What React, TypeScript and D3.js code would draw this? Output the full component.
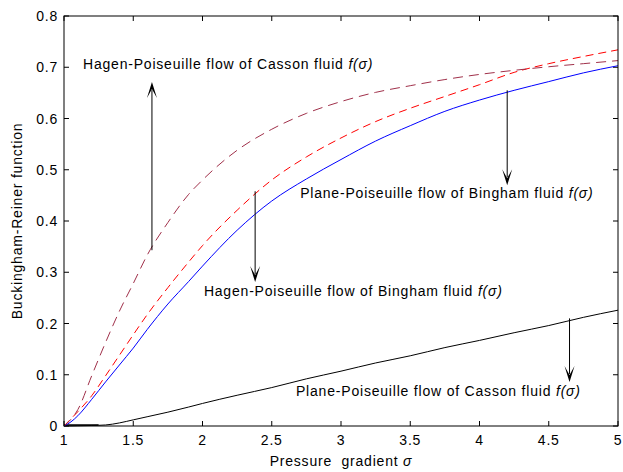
import React from "react";
import * as d3 from "d3";

const xs = [1, 1.05, 1.1, 1.2, 1.3, 1.4, 1.5, 1.6, 1.75, 1.9, 2, 2.25, 2.5, 2.75, 3, 3.25, 3.5, 3.75, 4, 4.25, 4.5, 4.75, 5];
const hagenCasson = [0, 0.013, 0.032, 0.098, 0.163, 0.224, 0.278, 0.333, 0.397, 0.452, 0.480, 0.538, 0.579, 0.610, 0.633, 0.651, 0.664, 0.676, 0.686, 0.694, 0.701, 0.707, 0.713];
const hagenBingham = [0, 0.014, 0.028, 0.059, 0.098, 0.138, 0.178, 0.217, 0.270, 0.320, 0.352, 0.421, 0.480, 0.525, 0.562, 0.594, 0.620, 0.643, 0.666, 0.690, 0.707, 0.721, 0.734];
const planeBingham = [0, 0.008, 0.020, 0.052, 0.086, 0.119, 0.152, 0.188, 0.238, 0.282, 0.312, 0.382, 0.439, 0.482, 0.520, 0.556, 0.586, 0.614, 0.636, 0.655, 0.672, 0.689, 0.703];
const planeCasson = [0, 0.0002, 0.0005, 0.001, 0.002, 0.006, 0.012, 0.018, 0.027, 0.037, 0.044, 0.060, 0.075, 0.092, 0.107, 0.123, 0.137, 0.153, 0.167, 0.182, 0.196, 0.212, 0.226];

const xTicks = [1, 1.5, 2, 2.5, 3, 3.5, 4, 4.5, 5];
const yTicks = [0, 0.1, 0.2, 0.3, 0.4, 0.5, 0.6, 0.7, 0.8];

const arrows = [
  { x: 1.635, y0: 0.343, y1: 0.671 },
  { x: 2.38, y0: 0.458, y1: 0.281 },
  { x: 4.2, y0: 0.655, y1: 0.47 },
  { x: 4.65, y0: 0.21, y1: 0.086 },
];

const labels = [
  { x: 1.137, y: 0.697, text: "Hagen-Poiseuille flow of Casson fluid " },
  { x: 2.705, y: 0.444, text: "Plane-Poiseuille flow of Bingham fluid " },
  { x: 2.01, y: 0.254, text: "Hagen-Poiseuille flow of Bingham fluid " },
  { x: 2.675, y: 0.059, text: "Plane-Poiseuille flow of Casson fluid " },
];

const W = 623, H = 472;
const m = { left: 64, right: 5, top: 16, bottom: 46 };

export default function App() {
  const x = d3.scaleLinear().domain([1, 5]).range([m.left, W - m.right]);
  const y = d3.scaleLinear().domain([0, 0.8]).range([H - m.bottom, m.top]);
  const line = d3
    .line<number>()
    .x((_, i) => x(xs[i]))
    .y((d) => y(d))
    .curve(d3.curveMonotoneX);
  const font = "'Liberation Sans', Arial, sans-serif";
  const fs = 14;
  const ls = 0.8;
  const tl = 5;
  const head = (px: number, py: number, dir: number) => {
    const L = 16, w = 5, n = 7;
    return `M${px},${py} L${px - w},${py - dir * L} L${px},${py - dir * n} L${px + w},${py - dir * L} Z`;
  };
  return (
    <svg width={W} height={H} style={{ position: "absolute", left: 0, top: 0, background: "#fff" }} fontFamily={font} letterSpacing={ls}>
      <rect x={0} y={0} width={W} height={H} fill="#fff" />
      {xTicks.map((t) => (
        <g key={"x" + t}>
          <line x1={x(t)} x2={x(t)} y1={y(0)} y2={y(0) - tl} stroke="#000" />
          <line x1={x(t)} x2={x(t)} y1={y(0.8)} y2={y(0.8) + tl} stroke="#000" />
          <text x={x(t)} y={y(0) + 19} textAnchor="middle" fontSize={fs} fill="#000">
            {t}
          </text>
        </g>
      ))}
      {yTicks.map((t) => (
        <g key={"y" + t}>
          <line x1={x(1)} x2={x(1) + tl} y1={y(t)} y2={y(t)} stroke="#000" />
          <line x1={x(5)} x2={x(5) - tl} y1={y(t)} y2={y(t)} stroke="#000" />
          <text x={x(1) - 6} y={y(t) + 5} textAnchor="end" fontSize={fs} fill="#000">
            {t}
          </text>
        </g>
      ))}
      <line x1={x(1)} x2={x(1.25)} y1={y(0) - 1} y2={y(0) - 1} stroke="#000" strokeWidth={1.5} />
      <path d={line(planeCasson) || ""} fill="none" stroke="#000" strokeWidth={1} />
      <path d={line(planeBingham) || ""} fill="none" stroke="#0000ff" strokeWidth={1} />
      <path d={line(hagenBingham) || ""} fill="none" stroke="#ff0000" strokeWidth={1} strokeDasharray="8,5" />
      <path d={line(hagenCasson) || ""} fill="none" stroke="#a0304a" strokeWidth={1} strokeDasharray="10,6" />
      {arrows.map((a, i) => {
        const dir = a.y1 < a.y0 ? 1 : -1;
        return (
          <g key={"a" + i}>
            <line x1={x(a.x)} x2={x(a.x)} y1={y(a.y0)} y2={y(a.y1) - dir * 8} stroke="#000" strokeWidth={1} />
            <path d={head(x(a.x), y(a.y1), dir)} fill="#000" />
          </g>
        );
      })}
      {labels.map((l, i) => (
        <text key={"l" + i} x={x(l.x)} y={y(l.y)} fontSize={fs} fill="#000">
          {l.text}
          <tspan fontStyle="italic">f(σ)</tspan>
        </text>
      ))}
      <rect x={x(1)} y={y(0.8)} width={x(5) - x(1)} height={y(0) - y(0.8)} fill="none" stroke="#000" strokeWidth={1} />
      <text x={(x(1) + x(5)) / 2} y={H - 6} textAnchor="middle" fontSize={fs} fill="#000">
        {"Pressure\u00a0\u00a0gradient\u00a0"}
        <tspan fontStyle="italic">σ</tspan>
      </text>
      <text transform={`translate(22,${(y(0) + y(0.8)) / 2}) rotate(-90)`} textAnchor="middle" fontSize={fs} fill="#000">
        Buckingham-Reiner function
      </text>
    </svg>
  );
}
